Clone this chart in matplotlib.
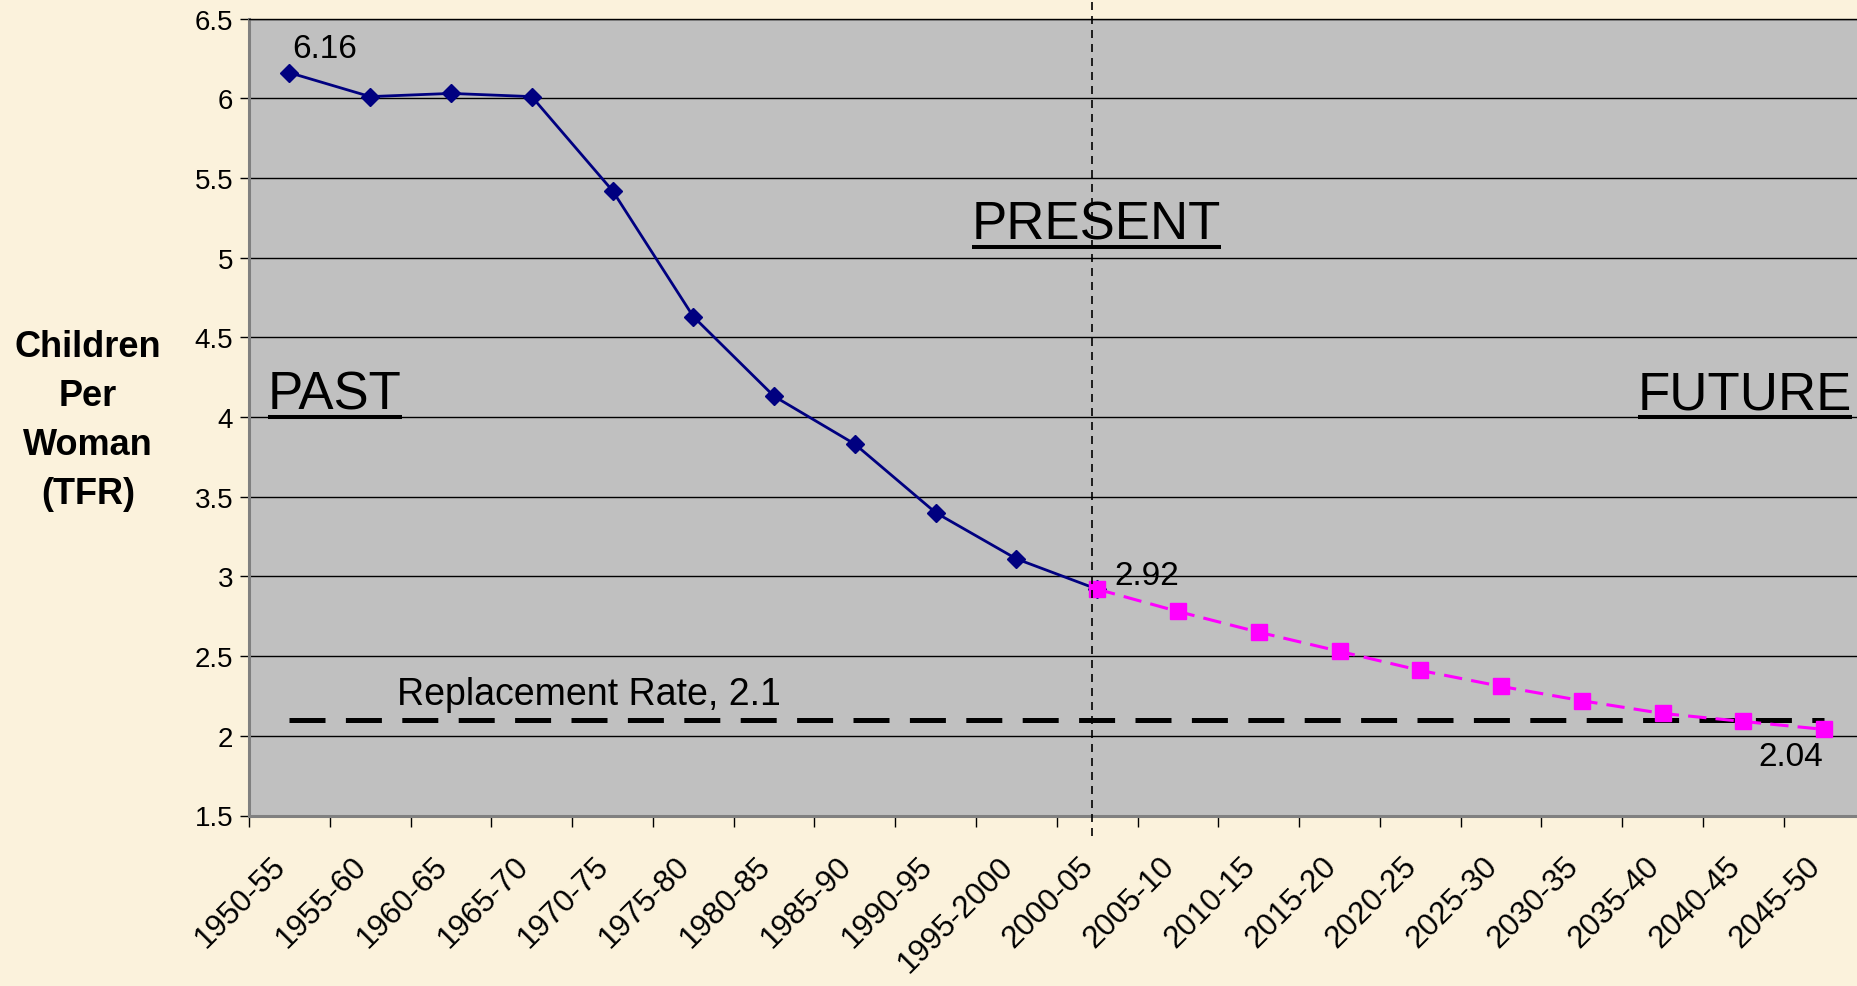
import numpy as np
import matplotlib.pyplot as plt
import matplotlib.transforms as mtransforms
from matplotlib.lines import Line2D

plt.rcParams['font.family'] = ['Liberation Sans', 'DejaVu Sans']

periods = ['1950-55', '1955-60', '1960-65', '1965-70', '1970-75', '1975-80',
           '1980-85', '1985-90', '1990-95', '1995-2000', '2000-05', '2005-10',
           '2010-15', '2015-20', '2020-25', '2025-30', '2030-35', '2035-40',
           '2040-45', '2045-50']
past_tfr = [6.16, 6.01, 6.03, 6.01, 5.42, 4.63, 4.13, 3.83, 3.40, 3.11, 2.92]
future_tfr = [2.92, 2.78, 2.65, 2.53, 2.41, 2.31, 2.22, 2.14, 2.09, 2.04]
replacement = 2.1
yticks = [1.5, 2, 2.5, 3, 3.5, 4, 4.5, 5, 5.5, 6, 6.5]

W, H = 1858, 987
fig = plt.figure(figsize=(W / 100, H / 100), dpi=100, facecolor='#FBF2DC')
ax = fig.add_axes([249 / W, 1 - 816.5 / H, 1615.6 / W, 797 / H], facecolor='#C0C0C0')

n = len(periods)
x_past = np.arange(len(past_tfr))
x_future = np.arange(len(past_tfr) - 1, n)
present = periods.index('2000-05')

ax.plot(np.arange(n), [replacement] * n, color='black', lw=3.6,
        ls=(0, (7.2, 4.08)), zorder=3)
ax.plot(x_past, past_tfr, color='#000080', lw=2, marker='D', ms=9, zorder=4)
ax.plot(x_future, future_tfr, color='#FF00FF', lw=2.2, ls=(0, (6, 3)),
        marker='s', ms=11.5, zorder=5)
ax.axvline(present - 0.06, ymin=-0.026, ymax=1.024, color='black', lw=1.2,
           ls=(0, (4.8, 3.6)), clip_on=False, zorder=6)

ax.set_xlim(-0.5, n - 0.5)
ax.set_ylim(1.5, 6.5)
ax.set_yticks(yticks, labels=[f'{v:g}' for v in yticks])
ax.yaxis.grid(True, color='black', lw=1.0)
ax.set_axisbelow(True)
ax.tick_params(axis='y', length=6.5, width=1, color='black', pad=5, labelsize=20)

ax.set_xticks(np.arange(n + 1) - 0.5, labels=[])
ax.set_xticks(np.arange(n), labels=periods, minor=True)
ax.tick_params(axis='x', which='major', length=8, width=1, color='black')
ax.tick_params(axis='x', which='minor', length=0, pad=33, labelsize=22.5)
shift = mtransforms.ScaledTranslation(-0.08, 0, fig.dpi_scale_trans)
for lab in ax.get_xticklabels(minor=True):
    lab.set_rotation(45)
    lab.set_ha('right')
    lab.set_va('center')
    lab.set_rotation_mode('anchor')
    lab.set_transform(lab.get_transform() + shift)

for s in ['left', 'bottom']:
    ax.spines[s].set_color('#808080')
    ax.spines[s].set_linewidth(2.2)
ax.spines['top'].set_color('black')
ax.spines['top'].set_linewidth(1)
ax.spines['right'].set_visible(False)

# data labels
ax.annotate('6.16', (0, past_tfr[0]), xytext=(3, 16), textcoords='offset pixels',
            fontsize=24, va='baseline')
ax.annotate('2.92', (present, past_tfr[-1]), xytext=(17, 5), textcoords='offset pixels',
            fontsize=24, va='baseline')
ax.annotate('2.04', (n - 1, future_tfr[-1]), xytext=(-66, -36), textcoords='offset pixels',
            fontsize=24, va='baseline')

fig.text(397 / W, 1 - 705 / H, 'Replacement Rate, 2.1', fontsize=27, va='baseline')

# y label, one line at a time
for i, line in enumerate(['Children', 'Per', 'Woman', '(TFR)']):
    fig.text(88 / W, 1 - (357 + 49 * i) / H, line, fontsize=26, fontweight='bold',
             ha='center', va='baseline')

# PAST / PRESENT / FUTURE with underline
heads = [('PAST', 268, 410), ('PRESENT', 972, 240), ('FUTURE', 1638, 410)]
texts = []
for label, px, py in heads:
    t = fig.text(px / W, 1 - py / H, label, fontsize=38, va='baseline', zorder=5)
    texts.append((t, py))

fig.canvas.draw()
for t, py in texts:
    bb = t.get_window_extent()
    yy = 1 - (py + 8) / H
    fig.add_artist(Line2D([bb.x0 / W, bb.x1 / W], [yy, yy], transform=fig.transFigure,
                          color='black', lw=2.9, solid_capstyle='butt'))

fig.savefig('out.png', dpi=100, facecolor=fig.get_facecolor())
